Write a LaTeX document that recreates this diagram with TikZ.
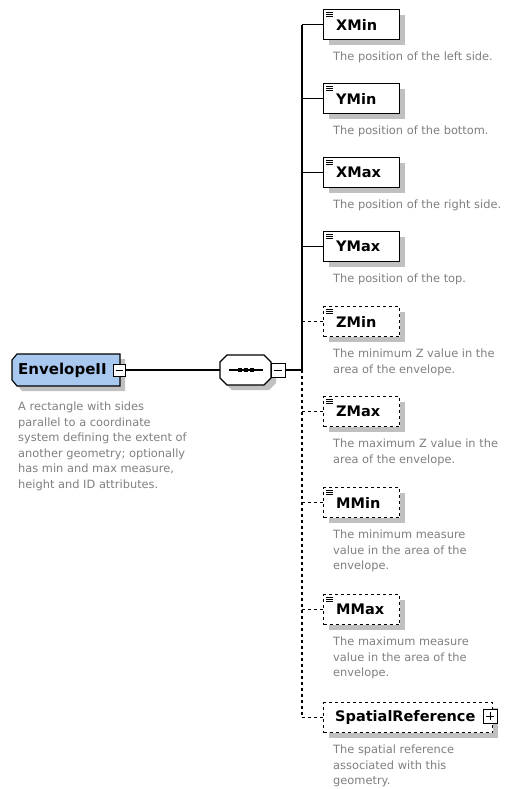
\documentclass[tikz,border=0pt]{standalone}
\usepackage{fontspec}
\setmainfont{DejaVu Sans}
\usetikzlibrary{shadows}

\definecolor{envfill}{RGB}{168,200,240}
\definecolor{descgray}{RGB}{128,128,128}
\definecolor{shade}{RGB}{192,192,192}

\tikzset{
  x=1pt, y=-1pt,
  boxshadow/.style={general shadow={fill=shade, shadow xshift=5pt, shadow yshift=-5pt}},
  elem/.style={rectangle, draw=black, line width=1.1pt, fill=white, anchor=north west,
               minimum height=30pt, inner sep=0pt, boxshadow},
  optelem/.style={elem, dash pattern=on 3pt off 3pt},
  tag/.style={font=\fontsize{14.5}{16}\selectfont\bfseries, anchor=west, inner sep=0pt},
  desc/.style={font=\fontsize{11.4}{15.5}\selectfont, text=descgray, anchor=north west,
               align=left, inner sep=0pt},
  conn/.style={line width=1.1pt},
  optconn/.style={conn, dash pattern=on 3pt off 3pt},
  toggle/.style={rectangle, draw=black, fill=white, line width=0.9pt,
                 minimum size=14pt, inner sep=0pt},
  iconline/.style={line width=0.8pt},
  frame/.style={inner sep=0pt, outer sep=0pt},
}

% three-line content marker in the top left corner of an element box
\newcommand\contenticon[1]{%
  \draw[iconline] ([shift={(3,3)}]#1.north west) -- ++(7,0);
  \draw[iconline] ([shift={(3,5)}]#1.north west) -- ++(7,0);
  \draw[iconline] ([shift={(3,7)}]#1.north west) -- ++(7,0);
}

\begin{document}
\begin{tikzpicture}
\useasboundingbox (0,0) rectangle (509,789);
\fill[white] (0,0) rectangle (509,789);

% ---- root element: box with cut left corners ----
\node[frame, minimum width=108pt, minimum height=32pt, anchor=north west] (env) at (12,354) {};
\draw[line width=1.1pt, fill=envfill, boxshadow]
  ([yshift=-6pt]env.north west) -- ([xshift=5pt]env.north west) -- (env.north east)
  -- (env.south east) -- ([xshift=5pt]env.south west) -- ([yshift=6pt]env.south west) -- cycle;
\node[tag, font=\fontsize{15}{17}\selectfont\bfseries] (env-t) at (18,370) {EnvelopeII};
\node[toggle, minimum size=12pt] (envtog) at (119,370) {};
\draw[line width=0.9pt] ([xshift=-3.5pt]envtog.center) -- ([xshift=3.5pt]envtog.center);
\node[desc] (env-d) at (18,402) {A rectangle with sides\\parallel to a coordinate\\system defining the extent of\\another geometry; optionally\\has min and max measure,\\height and ID attributes.};

% ---- sequence compositor: octagon ----
\node[frame, minimum width=51pt, minimum height=30pt] (seq) at (245.5,370) {};
\draw[line width=1.1pt, fill=white, boxshadow]
  ([yshift=-7pt]seq.north west) -- ([xshift=7pt]seq.north west)
  -- ([xshift=-7pt]seq.north east) -- ([yshift=-7pt]seq.north east)
  -- ([yshift=7pt]seq.south east) -- ([xshift=-7pt]seq.south east)
  -- ([xshift=7pt]seq.south west) -- ([yshift=7pt]seq.south west) -- cycle;
\draw[line width=1.1pt] ([xshift=-17pt]seq.center) -- ([xshift=17pt]seq.center);
\foreach \dx in {-6,0,6}
  \fill ([shift={(\dx-2,-2)}]seq.center) rectangle ++(4,4);
\node[toggle] (seqtog) at (278,370) {};
\draw[line width=0.9pt] ([xshift=-4pt]seqtog.center) -- ([xshift=4pt]seqtog.center);

\draw[conn] (envtog.east) -- (seq.west);
\coordinate (trunk) at (302,370);
\draw[conn] (seqtog.east) -- (trunk);

% ---- child elements ----
\node[elem, minimum width=76pt] (xmin) at (323,9) {};
\node[tag] (xmin-t) at ([xshift=13pt]xmin.west) {XMin};
\node[desc] (xmin-d) at (333,52) {The position of the left side.};

\node[elem, minimum width=76pt] (ymin) at (323,83) {};
\node[tag] (ymin-t) at ([xshift=13pt]ymin.west) {YMin};
\node[desc] (ymin-d) at (333,126) {The position of the bottom.};

\node[elem, minimum width=76pt] (xmax) at (323,157) {};
\node[tag] (xmax-t) at ([xshift=13pt]xmax.west) {XMax};
\node[desc] (xmax-d) at (333,200) {The position of the right side.};

\node[elem, minimum width=76pt] (ymax) at (323,231) {};
\node[tag] (ymax-t) at ([xshift=13pt]ymax.west) {YMax};
\node[desc] (ymax-d) at (333,274) {The position of the top.};

\node[optelem, minimum width=76pt] (zmin) at (323,306) {};
\node[tag] (zmin-t) at ([xshift=13pt]zmin.west) {ZMin};
\node[desc] (zmin-d) at (333,349) {The minimum Z value in the\\area of the envelope.};

\node[optelem, minimum width=76pt] (zmax) at (323,396) {};
\node[tag] (zmax-t) at ([xshift=13pt]zmax.west) {ZMax};
\node[desc] (zmax-d) at (333,439) {The maximum Z value in the\\area of the envelope.};

\node[optelem, minimum width=76pt] (mmin) at (323,487) {};
\node[tag] (mmin-t) at ([xshift=13pt]mmin.west) {MMin};
\node[desc] (mmin-d) at (333,530) {The minimum measure\\value in the area of the\\envelope.};

\node[optelem, minimum width=76pt] (mmax) at (323,594) {};
\node[tag] (mmax-t) at ([xshift=13pt]mmax.west) {MMax};
\node[desc] (mmax-d) at (333,637) {The maximum measure\\value in the area of the\\envelope.};

\node[optelem, minimum width=169pt] (sref) at (323,702) {};
\node[tag] (sref-t) at ([xshift=12pt]sref.west) {SpatialReference};
\node[toggle] (sreftog) at (490,716) {};
\draw[line width=0.9pt] ([xshift=-4pt]sreftog.center) -- ([xshift=4pt]sreftog.center);
\draw[line width=0.9pt] ([yshift=-4pt]sreftog.center) -- ([yshift=4pt]sreftog.center);
\node[desc] (sref-d) at (333,745) {The spatial reference\\associated with this\\geometry.};

\foreach \n in {xmin,ymin,xmax,ymax,zmin,zmax,mmin,mmax}
  {\contenticon{\n}}

% ---- connectors ----
\draw[conn] (xmin.west -| trunk) -- (trunk);
\draw[optconn] (trunk) -- (sref.west -| trunk);
\foreach \n in {xmin,ymin,xmax,ymax}
  \draw[conn] (\n.west -| trunk) -- (\n.west);
\foreach \n in {zmin,zmax,mmin,mmax,sref}
  \draw[optconn] (\n.west -| trunk) -- (\n.west);
\end{tikzpicture}
\end{document}
